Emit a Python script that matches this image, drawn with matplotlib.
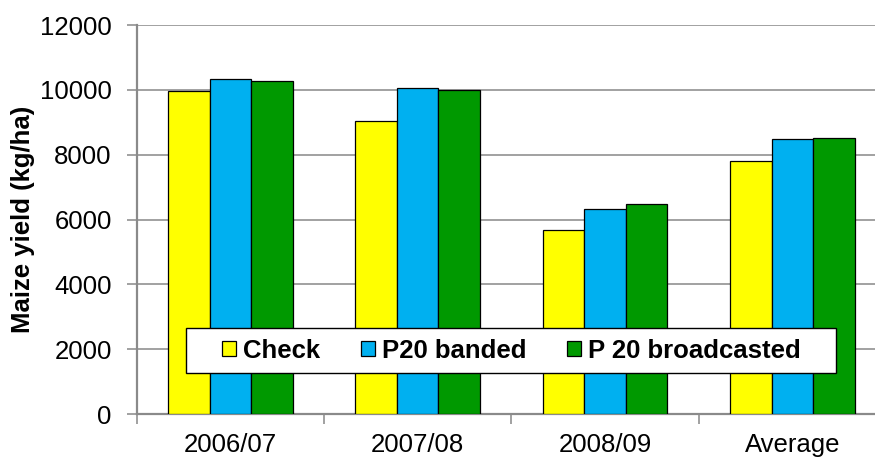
from matplotlib import pyplot as plt
from matplotlib.patches import Rectangle
import numpy as np

plt.rcParams['font.family'] = ['Liberation Sans', 'DejaVu Sans']

years = ['2006/07', '2007/08', '2008/09', 'Average']
check = [9950, 9045, 5685, 7815]
p20_banded = [10345, 10070, 6325, 8485]
p20_broadcast = [10285, 10010, 6485, 8515]
series_names = ['Check', 'P20 banded', 'P 20 broadcasted']
colors = ['#FFFF00', '#00B0F0', '#009900']

fig = plt.figure(figsize=(8.75, 4.59), dpi=100)
# axes runs a little past the right edge like in the original
ax = fig.add_axes([136.7/875, 45/459, 749.3/875, 389/459])

x = np.arange(len(years))
w = 0.222
for i, (vals, name, c) in enumerate(zip([check, p20_banded, p20_broadcast], series_names, colors)):
    ax.bar(x + (i - 1)*w, vals, w, color=c, edgecolor='black', linewidth=0.9,
           label=name, zorder=3)

ax.set_xlim(-0.5, 3.5)
ax.set_ylim(0, 12000)
ax.set_yticks(np.arange(0, 12001, 2000))
ax.grid(axis='y', color='#9a9a9a', linewidth=1.3, zorder=0)

# tick marks between categories, labels in the middle
ax.set_xticks([-0.5, 0.5, 1.5, 2.5])
ax.set_xticklabels([])
ax.set_xticks(x, minor=True)
ax.set_xticklabels(years, minor=True)
ax.tick_params(axis='x', which='minor', length=0, pad=14, labelsize=18.5)
ax.tick_params(axis='x', which='major', length=7, width=1.3, color='#9a9a9a')
ax.tick_params(axis='y', length=7, width=1.3, color='#9a9a9a', pad=11, labelsize=18.5)

for s in ['top', 'right']:
    ax.spines[s].set_visible(False)
for s in ['left', 'bottom']:
    ax.spines[s].set_color('#8a8a8a')
    ax.spines[s].set_linewidth(1.6)

ax.set_ylabel('Maize yield (kg/ha)', fontsize=18.5, fontweight='bold')
ax.yaxis.set_label_coords(-0.136, 0.5)

# legend box
ax.add_patch(Rectangle((0.0658, 0.1054), 0.8675, 0.1157, transform=ax.transAxes,
                       facecolor='white', edgecolor='black', linewidth=1.0, zorder=5))
leg = ax.legend(loc='center', bbox_to_anchor=(0.5, 0.163), ncol=3, frameon=False,
                prop={'size': 18.5, 'weight': 'bold'}, handlelength=0.55, handleheight=0.55,
                handletextpad=0.25, columnspacing=1.6)
leg.set_zorder(6)

plt.savefig('out.png', dpi=100)
